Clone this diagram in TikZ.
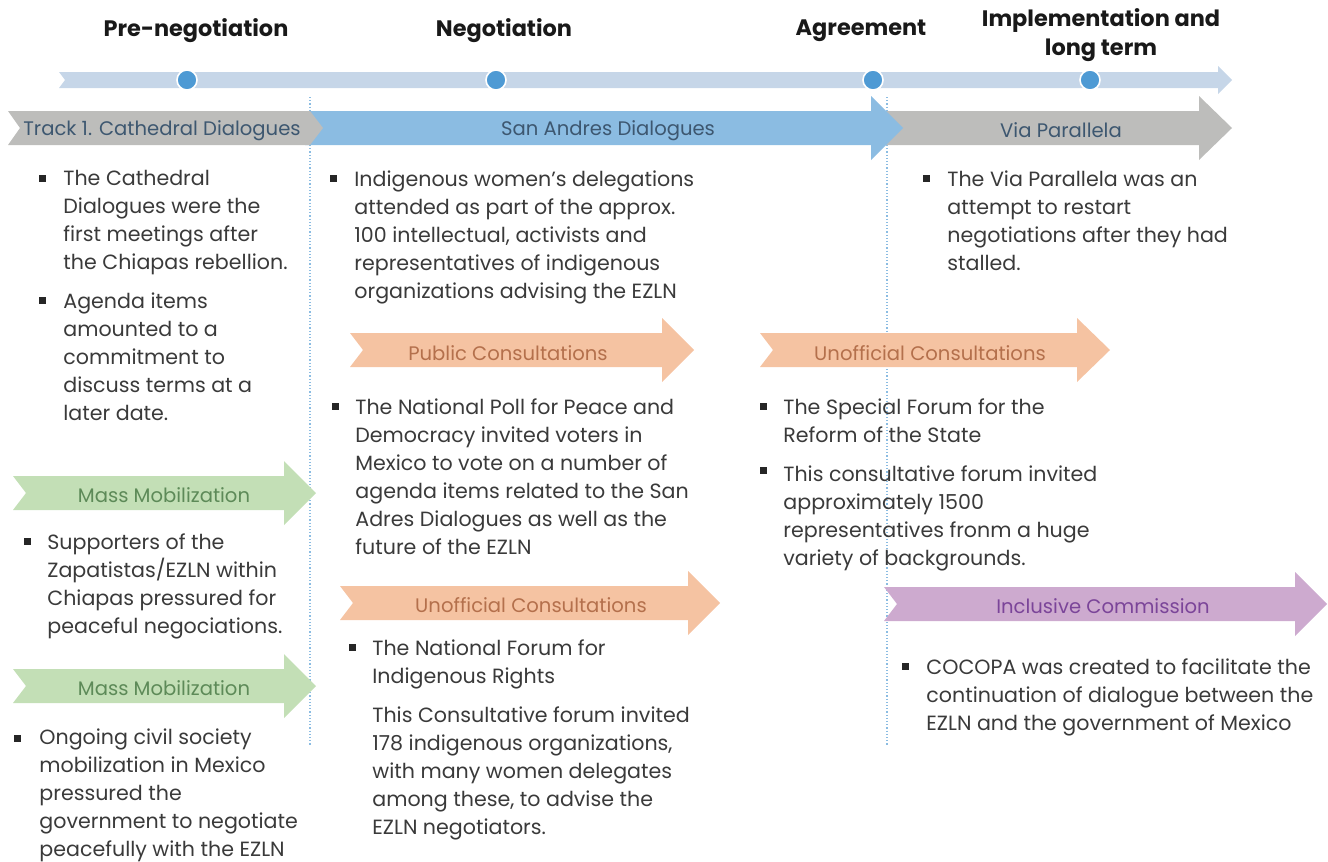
\documentclass[tikz,border=0pt]{standalone}
\usepackage{fontspec}
\setmainfont{Poppins}
\usetikzlibrary{positioning}
\definecolor{barblue}{HTML}{C6D6E8}
\definecolor{dotblue}{HTML}{4E9AD4}
\definecolor{sanblue}{HTML}{8BBCE2}
\definecolor{paragray}{HTML}{BDBDBB}
\definecolor{labelblue}{HTML}{3D5770}
\definecolor{consorange}{HTML}{F5C3A2}
\definecolor{constext}{HTML}{B4704C}
\definecolor{mobgreen}{HTML}{C3DFB6}
\definecolor{mobtext}{HTML}{5D8A58}
\definecolor{commpurple}{HTML}{CDAACF}
\definecolor{commtext}{HTML}{7B4599}
\definecolor{bodytext}{HTML}{3A3A3A}
\tikzset{
	>=stealth,
	phase/.style={font=\bfseries\fontsize{11.2}{14.5}\selectfont, text=black!90, align=center},
	bodytxt/.style={font=\fontsize{10.3}{14}\selectfont, text=bodytext, align=left,
		anchor=north west, inner sep=0pt, execute at begin node=\strut},
	bullet/.style={fill=black!85, minimum size=3.5pt, inner sep=0pt},
	tabtxt/.style={font=\fontsize{9.8}{12}\selectfont},
	milestone/.style={circle, fill=dotblue, draw=white, line width=0.8pt, minimum size=10pt, inner sep=0pt},
	guide/.style={sanblue, densely dotted, line width=0.6pt}
}
% banner arrow: fill, left x, head base x, tip x, centre y
\newcommand{\flagarrow}[5]{%
	\fill[#1] (#2,#5-17) -- (#3,#5-17) -- (#3,#5-32) -- (#4,#5) -- (#3,#5+32)
		-- (#3,#5+17) -- (#2,#5+17) -- (#2+13,#5) -- cycle;}
\begin{document}
\begin{tikzpicture}[x=0.5pt,y=-0.5pt]
	\useasboundingbox (0,0) rectangle (1328,862);

	% time line
	\fill[barblue] (59,72) -- (1218,72) -- (1218,66) -- (1232,80) -- (1218,94)
		-- (1218,88) -- (59,88) -- (65,80) -- cycle;
	\node[milestone] (m1) at (187,80) {};
	\node[milestone] (m2) at (496,80) {};
	\node[milestone] (m3) at (873,80) {};
	\node[milestone] (m4) at (1090,80) {};

	\node[phase] (hpre) at (196,31) {Pre-negotiation};
	\node[phase] (hneg) at (504,31) {Negotiation};
	\node[phase] (hagr) at (861,31) {Agreement};
	\node[phase] (himp) at (1101,35) {Implementation and\\long term};

	% phase borders
	\draw[guide] (310,97) -- (310,746);
	\draw[guide] (887,97) -- (887,746);

	% tracks
	\flagarrow{paragray}{880}{1199}{1232}{128}
	\flagarrow{sanblue}{305}{871}{903}{128}
	\fill[paragray] (8,111) -- (310,111) -- (323,128) -- (310,145) -- (8,145) -- (20,128) -- cycle;
	\node[tabtxt, text=labelblue] (track) at (162,131) {Track 1. Cathedral Dialogues};
	\node[tabtxt, text=labelblue] (sanandres) at (608,131) {San Andres Dialogues};
	\node[tabtxt, text=labelblue] (via) at (1061,130) {Via Parallela};

	% pre-negotiation
	\node[bullet] (b1) at (42,178) {};
	\node[bodytxt] (t1) at (63,170) {The Cathedral\\Dialogues were the\\first meetings after\\the Chiapas rebellion.};
	\node[bullet] (b2) at (42,300) {};
	\node[bodytxt] (t2) at (63,292) {Agenda items\\amounted to a\\commitment to\\discuss terms at a\\later date.};

	\flagarrow{mobgreen}{13}{284}{316}{493}
	\node[tabtxt, text=mobtext] (mob1) at (164,495) {Mass Mobilization};
	\node[bullet] (b3) at (27,541) {};
	\node[bodytxt] (t3) at (47,533) {Supporters of the\\Zapatistas/EZLN within\\Chiapas pressured for\\peaceful negociations.};

	\flagarrow{mobgreen}{13}{284}{316}{686}
	\node[tabtxt, text=mobtext] (mob2) at (164,688) {Mass Mobilization};
	\node[bullet] (b4) at (17,738) {};
	\node[bodytxt] (t4) at (39,728) {Ongoing civil society\\mobilization in Mexico\\pressured the\\government to negotiate\\peacefully with the EZLN};

	% negotiation
	\node[bullet] (b5) at (333,178) {};
	\node[bodytxt] (t5) at (354,170) {Indigenous women's delegations\\attended as part of the approx.\\100 intellectual, activists and\\representatives of indigenous\\organizations advising the EZLN};

	\flagarrow{consorange}{350}{662}{694}{350}
	\node[tabtxt, text=constext] (pubcons) at (508,353) {Public Consultations};
	\node[bullet] (b6) at (335,406) {};
	\node[bodytxt] (t6) at (355,398) {The National Poll for Peace and\\Democracy invited voters in\\Mexico to vote on a number of\\agenda items related to the San\\Adres Dialogues as well as the\\future of the EZLN};

	\flagarrow{consorange}{340}{688}{720}{603}
	\node[tabtxt, text=constext] (unoff1) at (531,605) {Unofficial Consultations};
	\node[bullet] (b7) at (352,647) {};
	\node[bodytxt] (t7) at (372,639) {The National Forum for\\Indigenous Rights};
	\node[bodytxt] (t8) at (372,706) {This Consultative forum invited\\178 indigenous organizations,\\with many women delegates\\among these, to advise the\\EZLN negotiators.};

	% agreement
	\flagarrow{consorange}{760}{1077}{1110}{350}
	\node[tabtxt, text=constext] (unoff2) at (930,353) {Unofficial Consultations};
	\node[bullet] (b9) at (763,406) {};
	\node[bodytxt] (t9) at (783,398) {The Special Forum for the\\Reform of the State};
	\node[bullet] (b10) at (763,470) {};
	\node[bodytxt] (t10) at (783,465) {This consultative forum invited\\approximately 1500\\representatives fronm a huge\\variety of backgrounds.};

	% implementation
	\node[bullet] (b11) at (926,178) {};
	\node[bodytxt] (t11) at (947,170) {The Via Parallela was an\\attempt to restart\\negotiations after they had\\stalled.};

	\flagarrow{commpurple}{884}{1295}{1327}{604}
	\node[tabtxt, text=commtext] (incl) at (1103,606) {Inclusive Commission};
	\node[bullet] (b12) at (905,666) {};
	\node[bodytxt] (t12) at (926,658) {COCOPA was created to facilitate the\\continuation of dialogue between the\\EZLN and the government of Mexico};
\end{tikzpicture}
\end{document}
